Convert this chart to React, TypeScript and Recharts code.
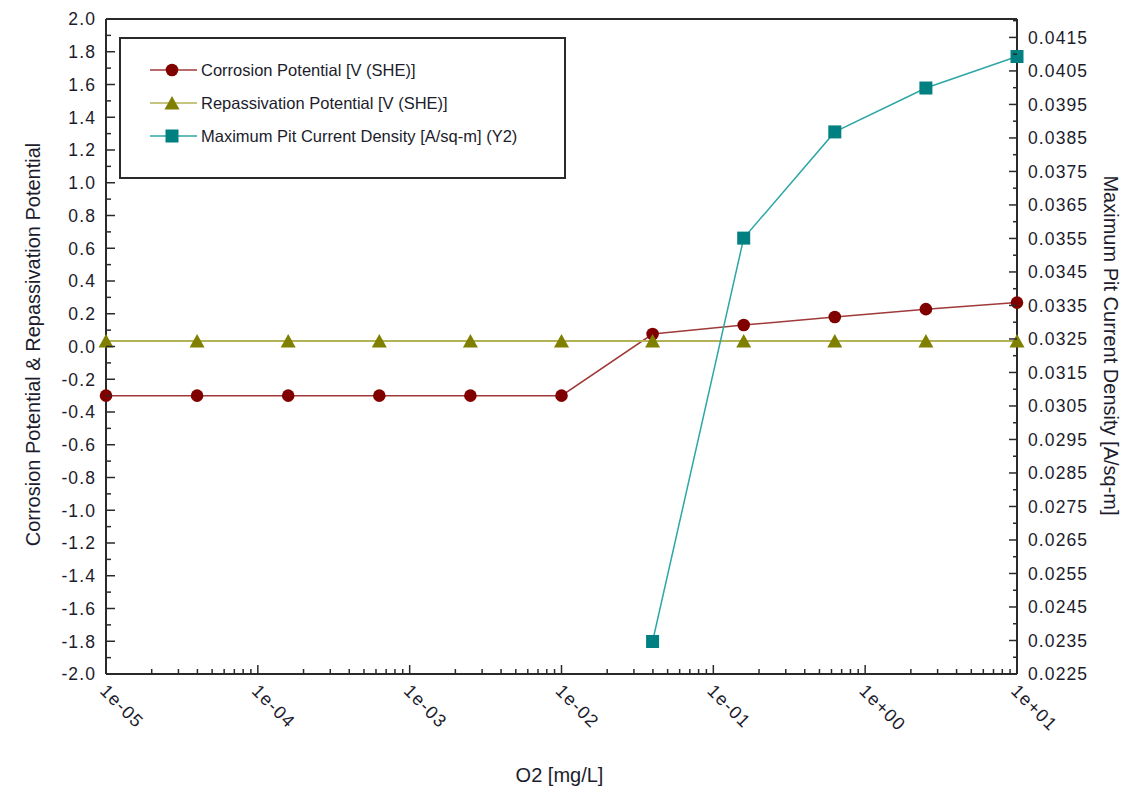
import React from 'react';
import { ComposedChart, Line, XAxis, YAxis, ReferenceLine, Legend } from 'recharts';

// O2 concentration [mg/L] at each calculated point
const o2 = [1e-5, 3.98e-5, 1.585e-4, 6.31e-4, 2.512e-3, 1e-2, 3.98e-2, 0.1585, 0.631, 2.512, 10];
// Y1 series [V (SHE)]
const corrosion = [-0.3, -0.3, -0.3, -0.3, -0.3, -0.3, 0.076, 0.131, 0.18, 0.228, 0.268];
const repassivation = [0.033, 0.033, 0.033, 0.033, 0.033, 0.033, 0.033, 0.033, 0.033, 0.033, 0.033];
// Y2 series [A/sq-m]
const pitCurrent = [null, null, null, null, null, null, 0.02347, 0.03551, 0.03868, 0.03999, 0.04093];

const xMajorTicks = [1e-5, 1e-4, 1e-3, 1e-2, 1e-1, 1, 10];
const xTickLabels = ['1e-05', '1e-04', '1e-03', '1e-02', '1e-01', '1e+00', '1e+01'];
const leftMajorTicks = [-2.0, -1.8, -1.6, -1.4, -1.2, -1.0, -0.8, -0.6, -0.4, -0.2, 0.0, 0.2, 0.4, 0.6, 0.8, 1.0, 1.2, 1.4, 1.6, 1.8, 2.0];
const rightMajorTicks = [0.0225, 0.0235, 0.0245, 0.0255, 0.0265, 0.0275, 0.0285, 0.0295, 0.0305, 0.0315, 0.0325, 0.0335, 0.0345, 0.0355, 0.0365, 0.0375, 0.0385, 0.0395, 0.0405, 0.0415];

// minor (unlabelled) tick marks
const xMinorTicks = xMajorTicks.slice(0, -1).flatMap((d) => [2, 3, 4, 5, 6, 7, 8, 9].map((m) => m * d));
const leftMinorTicks = leftMajorTicks.slice(0, -1).map((v) => v + 0.1);
const rightMinorTicks = rightMajorTicks.map((v) => v + 0.0005);

const data = o2.map((x, i) => ({
  x,
  corrosion: corrosion[i],
  repassivation: repassivation[i],
  pit: pitCurrent[i],
}));

const FONT = '"Liberation Sans", Arial, Helvetica, sans-serif';
const AXIS = '#2a2a2a';
const TXT = '#1c1c2c';

const C_RED = '#800000';
const C_RED_LINE = '#a03a3a';
const C_OLIVE = '#808000';
const C_OLIVE_LINE = '#b2b256';
const C_TEAL = '#008080';
const C_TEAL_LINE = '#2ea6a6';

const isMajor = (list: number[], v: number) => list.findIndex((t) => Math.abs(t - v) < 1e-9);

const XTick = (props: any) => {
  const { x, y, payload } = props;
  const v = payload.value;
  const idx = xMajorTicks.findIndex((t) => Math.abs(t - v) / t < 1e-6);
  const tx = x - 7;
  const ty = y + 18;
  return (
    <g>
      <line x1={x} y1={y} x2={x} y2={y - (idx >= 0 ? 9 : 5)} stroke={AXIS} strokeWidth={1.5} />
      {idx >= 0 && (
        <text x={tx} y={ty} transform={`rotate(45, ${tx}, ${ty})`} fontSize={18} letterSpacing={1.3} fontFamily={FONT} fill={TXT}>
          {xTickLabels[idx]}
        </text>
      )}
    </g>
  );
};

const LeftTick = (props: any) => {
  const { x, y, payload } = props;
  const idx = isMajor(leftMajorTicks, payload.value);
  return (
    <g>
      <line x1={x} y1={y} x2={x + (idx >= 0 ? 9 : 5)} y2={y} stroke={AXIS} strokeWidth={1.5} />
      {idx >= 0 && (
        <text x={x - 10} y={y} dy="0.36em" textAnchor="end" fontSize={17.5} letterSpacing={1.1} fontFamily={FONT} fill={TXT}>
          {leftMajorTicks[idx].toFixed(1)}
        </text>
      )}
    </g>
  );
};

const RightTick = (props: any) => {
  const { x, y, payload } = props;
  const idx = isMajor(rightMajorTicks, payload.value);
  return (
    <g>
      <line x1={x} y1={y} x2={x - (idx >= 0 ? 8 : 4)} y2={y} stroke={AXIS} strokeWidth={1.5} />
      {idx >= 0 && (
        <text x={x + 11} y={y} dy="0.36em" textAnchor="start" fontSize={17.5} letterSpacing={1.1} fontFamily={FONT} fill={TXT}>
          {rightMajorTicks[idx].toFixed(4)}
        </text>
      )}
    </g>
  );
};

const LeftTitle = (props: any) => {
  const vb = props.viewBox || { x: 0, y: 19, width: 106, height: 655 };
  const cx = vb.x + 33;
  const cy = vb.y + vb.height / 2 - 2;
  return (
    <text x={cx} y={cy} transform={`rotate(-90, ${cx}, ${cy})`} textAnchor="middle" dominantBaseline="central" fontSize={20} fontFamily={FONT} fill={TXT}>
      {'Corrosion Potential & Repassivation Potential'}
    </text>
  );
};

const RightTitle = (props: any) => {
  const vb = props.viewBox || { x: 1017, y: 19, width: 115, height: 655 };
  const cx = vb.x + 94;
  const cy = vb.y + vb.height / 2 - 1;
  return (
    <text x={cx} y={cy} transform={`rotate(90, ${cx}, ${cy})`} textAnchor="middle" dominantBaseline="central" fontSize={20} fontFamily={FONT} fill={TXT}>
      Maximum Pit Current Density [A/sq-m]
    </text>
  );
};

const XTitle = (props: any) => {
  const vb = props.viewBox || { x: 106, y: 674, width: 911, height: 114 };
  return (
    <text x={vb.x + vb.width / 2 - 2} y={vb.y + 108} textAnchor="middle" fontSize={20} fontFamily={FONT} fill={TXT}>
      O2 [mg/L]
    </text>
  );
};

const circleMark = (cx: number, cy: number, key?: any) => <circle key={key} cx={cx} cy={cy} r={6.3} fill={C_RED} />;
const triangleMark = (cx: number, cy: number, key?: any) => (
  <polygon key={key} points={`${cx},${cy - 7} ${cx + 7.5},${cy + 6.5} ${cx - 7.5},${cy + 6.5}`} fill={C_OLIVE} />
);
const squareMark = (cx: number, cy: number, key?: any) => <rect key={key} x={cx - 6.5} y={cy - 6.5} width={13} height={13} fill={C_TEAL} />;

const makeDot = (mark: (cx: number, cy: number, key?: any) => any) => (p: any) => {
  const key = p.key ?? `d-${p.index}`;
  if (p.value == null || p.cy == null || Number.isNaN(p.cy)) return <g key={key} />;
  return mark(p.cx, p.cy, key);
};

const legendItems = [
  { name: 'Corrosion Potential [V (SHE)]', line: C_RED_LINE, mark: circleMark },
  { name: 'Repassivation Potential [V (SHE)]', line: C_OLIVE_LINE, mark: triangleMark },
  { name: 'Maximum Pit Current Density [A/sq-m] (Y2)', line: C_TEAL_LINE, mark: squareMark },
];

const LegendBox = () => (
  <div style={{ width: 447, height: 142, border: `2px solid ${AXIS}`, boxSizing: 'border-box', background: '#fff' }}>
    <svg width={443} height={138} style={{ display: 'block' }}>
      {legendItems.map((it, i) => {
        const y = 31 + i * 33;
        return (
          <g key={it.name}>
            <line x1={29} y1={y} x2={76} y2={y} stroke={it.line} strokeWidth={1.5} />
            {it.mark(51, y)}
            <text x={80} y={y} dy="0.36em" fontSize={16.5} fontFamily={FONT} fill={TXT}>
              {it.name}
            </text>
          </g>
        );
      })}
    </svg>
  </div>
);

export default function App() {
  return (
    <div style={{ position: 'absolute', left: 0, top: 0, width: 1132, height: 788, background: '#fff' }}>
      <ComposedChart width={1132} height={788} data={data} margin={{ top: 19, right: 0, bottom: 0, left: 0 }}>
        <XAxis
          dataKey="x"
          type="number"
          scale="log"
          domain={[1e-5, 10]}
          ticks={[...xMajorTicks, ...xMinorTicks]}
          interval={0}
          tick={(p: any) => <XTick {...p} />}
          tickLine={false}
          tickSize={0}
          tickMargin={0}
          height={114}
          axisLine={{ stroke: AXIS, strokeWidth: 2 }}
          label={(p: any) => <XTitle {...p} />}
        />
        <YAxis
          yAxisId="left"
          type="number"
          domain={[-2, 2]}
          ticks={[...leftMajorTicks, ...leftMinorTicks]}
          interval={0}
          tick={(p: any) => <LeftTick {...p} />}
          tickLine={false}
          tickSize={0}
          tickMargin={0}
          width={106}
          axisLine={{ stroke: AXIS, strokeWidth: 2 }}
          label={(p: any) => <LeftTitle {...p} />}
        />
        <YAxis
          yAxisId="right"
          orientation="right"
          type="number"
          domain={[0.0225, 0.04205]}
          ticks={[...rightMajorTicks, ...rightMinorTicks]}
          interval={0}
          tick={(p: any) => <RightTick {...p} />}
          tickLine={false}
          tickSize={0}
          tickMargin={0}
          width={115}
          axisLine={{ stroke: AXIS, strokeWidth: 2 }}
          label={(p: any) => <RightTitle {...p} />}
        />
        <ReferenceLine yAxisId="left" y={2} stroke={AXIS} strokeWidth={2} />
        <Legend
          layout="vertical"
          align="center"
          verticalAlign="middle"
          wrapperStyle={{ left: 119, top: 37, width: 447, height: 142 }}
          content={() => <LegendBox />}
        />
        <Line
          yAxisId="left"
          dataKey="corrosion"
          name="Corrosion Potential [V (SHE)]"
          stroke={C_RED_LINE}
          strokeWidth={1.5}
          dot={makeDot(circleMark)}
          activeDot={false}
          isAnimationActive={false}
        />
        <Line
          yAxisId="left"
          dataKey="repassivation"
          name="Repassivation Potential [V (SHE)]"
          stroke={C_OLIVE_LINE}
          strokeWidth={2}
          dot={makeDot(triangleMark)}
          activeDot={false}
          isAnimationActive={false}
        />
        <Line
          yAxisId="right"
          dataKey="pit"
          name="Maximum Pit Current Density [A/sq-m] (Y2)"
          stroke={C_TEAL_LINE}
          strokeWidth={1.5}
          dot={makeDot(squareMark)}
          activeDot={false}
          connectNulls={false}
          isAnimationActive={false}
        />
      </ComposedChart>
    </div>
  );
}
